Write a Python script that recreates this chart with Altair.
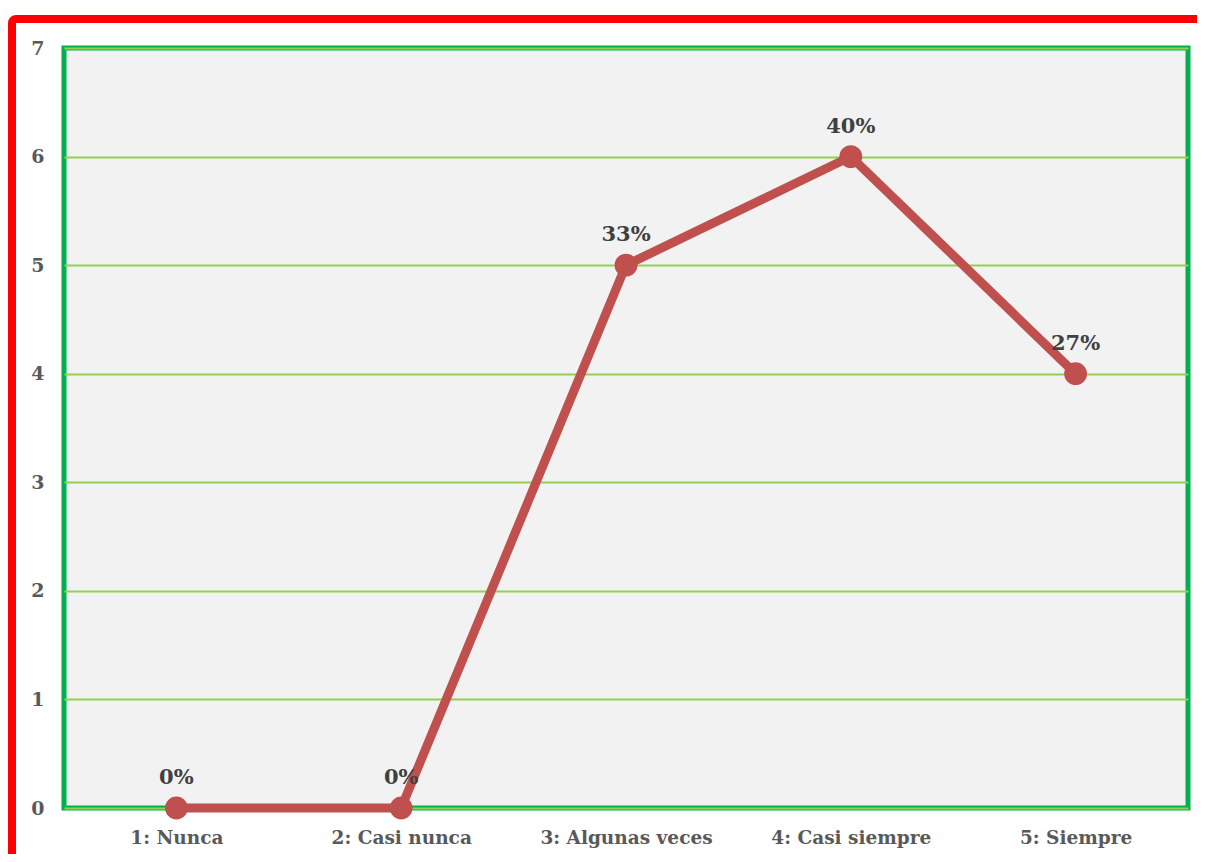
import altair as alt
import pandas as pd

categories = ["1: Nunca", "2: Casi nunca", "3: Algunas veces", "4: Casi siempre", "5: Siempre"]
values = [0, 0, 5, 6, 4]
pct_labels = ["0%", "0%", "33%", "40%", "27%"]
y_ticks = [0, 1, 2, 3, 4, 5, 6, 7]

df = pd.DataFrame({"cat": categories, "val": values, "lab": pct_labels})

W, H = 1124, 760
FONT = "DejaVu Serif"

x_enc = alt.X("cat:N", sort=categories, title=None,
              scale=alt.Scale(type="point", padding=0.5),
              axis=alt.Axis(labelAngle=0, labelFont=FONT, labelFontWeight="bold",
                            labelFontSize=18.5, labelColor="#595959", labelPadding=20,
                            domain=False, ticks=False, grid=False))
y_enc = alt.Y("val:Q", title=None,
              scale=alt.Scale(domain=[0, 7], nice=False, zero=True),
              axis=alt.Axis(values=y_ticks, labelFont=FONT, labelFontWeight="bold",
                            labelFontSize=19, labelColor="#595959", labelPadding=20,
                            domain=False, ticks=False, grid=True, gridColor="#92d050",
                            gridWidth=2))

base = alt.Chart(df)

frame = base.transform_filter("datum.cat == '1: Nunca'").mark_rect(
    fill=None, stroke="#ff0000", strokeWidth=8, cornerRadius=4
).encode(x=alt.value(-52), x2=alt.value(W + 200), y=alt.value(-29), y2=alt.value(H + 200))

line = base.mark_line(color="#c0504d", strokeWidth=9).encode(x=x_enc, y=y_enc)
pts = base.mark_circle(color="#c0504d", size=520, opacity=1).encode(x=x_enc, y=y_enc)
txt = base.mark_text(font=FONT, fontWeight="bold", fontSize=21, color="#404040",
                     dy=-30).encode(x=x_enc, y=y_enc, text="lab:N")

chart = alt.layer(line, pts, txt, frame).properties(
    width=W, height=H,
    autosize=alt.AutoSizeParams(type="none"),
    padding={"left": 56, "top": 40, "right": 9, "bottom": 46},
    background="white",
).configure_view(
    fill="#f2f2f2", stroke="#00b050", strokeWidth=5
)

chart.save("out.html", embed_options={"renderer": "svg", "actions": False})
